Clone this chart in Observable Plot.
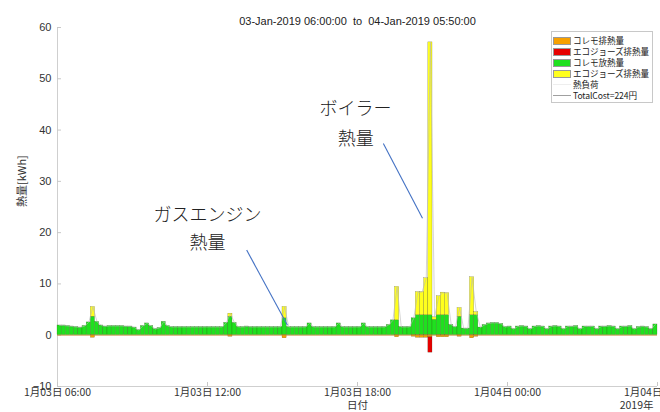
<!DOCTYPE html>
<html>
<head>
<meta charset="utf-8">
<script src="https://cdn.jsdelivr.net/npm/d3@7"></script>
<script src="https://cdn.jsdelivr.net/npm/@observablehq/plot@0.6"></script>
<style>
  html, body { margin: 0; padding: 0; background: #fff; }
  body { width: 660px; height: 412px; overflow: hidden; position: relative; }
  #chart { position: absolute; left: 0; top: 0; }
  #legend { position: absolute; left: 551px; top: 31px; width: 102px; height: 72px; box-sizing: border-box;
            border: 1px solid #c8c8c8; background: #fff; font-family: "Noto Sans CJK JP", sans-serif; font-size: 8.6px; color: #222; padding-top: 3px; }
  .row { height: 11px; line-height: 11px; display: flex; align-items: center; white-space: nowrap; overflow: visible; }
  .sw { flex: none; width: 18px; height: 8px; margin-left: 1px; margin-right: 2px; box-sizing: border-box; border: 1px solid #999; }
  .ln { flex: none; width: 18px; height: 0; margin-left: 1px; margin-right: 2px; border-top: 1px solid #999; }
  .tx { white-space: nowrap; letter-spacing: -0.1px; }
</style>
</head>
<body>
<div id="chart"></div>
<div id="legend"></div>
<script>
// ---- data (10-minute steps from 2019-01-03 06:00 to 2019-01-04 05:50) ----
const seriesNames = ["コレモ排熱量", "エコジョーズ排熱量", "コレモ放熱量", "エコジョーズ排熱量"];
const lineNames = ["熱負荷", "TotalCost=224円"];
const titleText = "03-Jan-2019 06:00:00  to  04-Jan-2019 05:50:00";
const yTicks = [-10, 0, 10, 20, 30, 40, 50, 60];
const yLabel = "熱量[kWh]";
const xLabel = "日付";
const yearLabel = "2019年";

// コレモ放熱量 (green)
const coremoHeat = [
  1.9,1.9,1.8,1.7,1.6,1.5,
  1.8,2.5,3.6,2.6,1.9,1.7,
  1.8,1.8,1.8,1.8,1.7,1.7,
  1.5,1.0,1.8,2.3,1.8,1.2,
  1.4,2.6,1.8,1.6,1.6,1.6,
  1.6,1.6,1.6,1.6,1.6,1.6,
  1.6,1.6,1.6,1.6,2.4,3.6,
  2.4,1.6,1.6,1.7,1.6,1.6,
  1.6,1.6,1.6,1.6,1.6,1.6,
  3.3,1.6,1.6,1.6,1.6,1.6,
  2.3,1.6,1.6,1.6,1.6,1.6,
  1.6,2.3,1.6,1.6,1.6,1.6,
  1.6,2.3,1.6,1.6,1.6,1.6,
  1.6,2.0,2.9,2.9,1.6,1.6,
  1.6,3.3,3.9,3.9,3.9,3.9,
  3.0,3.9,3.9,3.9,2.0,1.6,
  3.6,1.3,1.3,3.9,3.9,1.5,
  2.0,2.3,2.4,2.4,2.2,1.6,
  1.7,1.2,1.7,1.8,1.7,1.2,
  1.7,1.8,1.7,1.2,1.7,1.8,
  1.7,1.2,1.7,1.7,1.8,1.2,
  1.7,1.7,1.7,1.2,1.7,1.7,
  1.8,1.7,1.2,1.7,1.7,1.8,
  1.2,1.6,1.7,1.6,1.2,2.1
];
// エコジョーズ (yellow, stacked on green)
const ecoHeat = [
  0,0,0,0,0,0,
  0,0,1.9,0,0,0,
  0,0,0,0,0,0,
  0,0,0,0,0,0,
  0,0,0,0,0,0,
  0,0,0,0,0,0,
  0,0,0,0,0,0.6,
  0,0,0,0,0,0,
  0,0,0,0,0,0,
  2.2,0,0,0,0,0,
  0,0,0,0,0,0,
  0,0,0,0,0,0,
  0,0,0,0,0,0,
  0,0,0,6.5,0,0,
  0,0,4.5,4.5,7.2,53.2,
  0.5,3.7,4.4,4.3,0,0,
  1.7,0,0,7.4,0.6,0,
  0,0,0,0,0,0,
  0,0,0,0,0,0,
  0,0,0,0,0,0,
  0,0,0,0,0,0,
  0,0,0,0,0,0,
  0,0,0,0,0,0,
  0,0,0,0,0,0
];
// コレモ排熱量 (orange, negative)
const coremoExhaust = [
  0,0,0,0,0,0,
  0,0,-0.5,0,0,0,
  0,0,0,0,0,0,
  0,0,0,0,0,0,
  0,0,0,0,0,0,
  0,0,0,0,0,0,
  0,0,0,0,0,-0.3,
  0,0,0,0,0,0,
  0,0,0,0,0,0,
  -0.6,0,0,0,0,0,
  0,0,0,0,0,0,
  0,0,0,0,0,0,
  0,0,0,0,0,0,
  0,0,0,-0.4,0,0,
  0,-0.3,-0.5,-0.5,-0.5,-0.4,
  0,-0.4,-0.4,-0.4,0,0,
  -0.3,0,0,-0.6,-0.3,0,
  0,0,0,0,0,0,
  0,0,0,0,0,0,
  0,0,0,0,0,0,
  0,0,0,0,0,0,
  0,0,0,0,0,0,
  0,0,0,0,0,0,
  0,0,0,0,0,0
];
// エコジョーズ排熱量 (red, negative, stacked below orange)
const ecoExhaust = [
  0,0,0,0,0,0, 0,0,0,0,0,0, 0,0,0,0,0,0, 0,0,0,0,0,0,
  0,0,0,0,0,0, 0,0,0,0,0,0, 0,0,0,0,0,0, 0,0,0,0,0,0,
  0,0,0,0,0,0, 0,0,0,0,0,0, 0,0,0,0,0,0, 0,0,0,0,0,0,
  0,0,0,0,0,0, 0,0,0,0,0,0,
  0,0,0,0,0,-3.0,
  0,0,0,0,0,0, 0,0,0,0,0,0, 0,0,0,0,0,0,
  0,0,0,0,0,0, 0,0,0,0,0,0, 0,0,0,0,0,0,
  0,0,0,0,0,0, 0,0,0,0,0,0, 0,0,0,0,0,0
];

// annotations
const annoText = [
  {t: "2019-01-03T17:55Z", v: 44.0, s: "ボイラー"},
  {t: "2019-01-03T17:56Z", v: 38.2, s: "熱量"},
  {t: "2019-01-03T12:00Z", v: 23.4, s: "ガスエンジン"},
  {t: "2019-01-03T12:00Z", v: 17.9, s: "熱量"}
];
const annoLinks = [
  {t1: "2019-01-03T19:02Z", v1: 37.4, t2: "2019-01-03T20:36Z", v2: 22.8},
  {t1: "2019-01-03T13:34Z", v1: 16.6, t2: "2019-01-03T15:12Z", v2: 1.95}
];

const colors = {orange: "#f7a000", red: "#e60000", green: "#1fe01f", yellow: "#ffff1e"};

// ---- build tables ----
const start = new Date(Date.UTC(2019, 0, 3, 6, 0));
const end = new Date(Date.UTC(2019, 0, 4, 6, 0));
const rows = coremoHeat.map((g, i) => ({
  t: d3.utcMinute.offset(start, 10 * i),
  g, e: ecoHeat[i], o: coremoExhaust[i], r: ecoExhaust[i]
}));
const rects = [];
for (const d of rows) {
  const t2 = d3.utcMinute.offset(d.t, 10);
  rects.push({x1: d.t, x2: t2, y1: 0, y2: d.g, c: colors.green});
  if (d.e) rects.push({x1: d.t, x2: t2, y1: d.g, y2: d.g + d.e, c: colors.yellow});
  if (d.o) rects.push({x1: d.t, x2: t2, y1: 0, y2: d.o, c: colors.orange});
  if (d.r) rects.push({x1: d.t, x2: t2, y1: d.o, y2: d.o + d.r, c: colors.red});
}
const xTicks = d3.utcHour.every(6).range(start, d3.utcMinute.offset(end, 1));
const fmt = d3.utcFormat("%-m月%d日 %H:%M");

const cjk = "'Noto Sans CJK JP', sans-serif";
const plot = Plot.plot({
  width: 660, height: 412,
  marginLeft: 57, marginRight: 3, marginTop: 27, marginBottom: 26,
  style: {fontFamily: "'Liberation Sans', 'Noto Sans CJK JP', sans-serif", fontSize: "11px", background: "#fff", overflow: "visible"},
  x: {type: "utc", domain: [start, end]},
  y: {domain: [-10, 60]},
  marks: [
    Plot.ruleX([start], {stroke: "#cfcfcf"}),
    Plot.ruleY([-10], {stroke: "#cfcfcf"}),
    Plot.axisY({ticks: yTicks, tickSize: -4, tickPadding: 10, stroke: "#c8c8c8", fill: "#333", label: null, fontSize: 11}),
    Plot.axisX({ticks: xTicks, tickFormat: fmt, tickSize: -4, tickPadding: 6, stroke: "#c8c8c8", fill: "#333", label: null, fontSize: 10.5, fontFamily: cjk}),
    Plot.rect(rects, {x1: "x1", x2: "x2", y1: "y1", y2: "y2", fill: "c", stroke: "#3a3a1a", strokeWidth: 0.35, strokeOpacity: 0.6}),
    Plot.ruleY([0], {stroke: "#c08a30", strokeWidth: 0.8, x1: start, x2: end}),
    Plot.lineY(rows, {x: d => d3.utcMinute.offset(d.t, 5), y: d => d.g + d.e, stroke: "#b8b8b8", strokeWidth: 0.6}),
    Plot.link(annoLinks, {x1: d => new Date(d.t1), y1: "v1", x2: d => new Date(d.t2), y2: "v2", stroke: "#4472c4", strokeWidth: 1.1}),
    Plot.text(annoText, {x: d => new Date(d.t), y: "v", text: "s", fontSize: 18, fontFamily: cjk, fontWeight: 300, fill: "#222"}),
    Plot.text([titleText], {frameAnchor: "top", dy: -10, fontSize: 11, fill: "#222"}),
    Plot.text([yLabel], {frameAnchor: "left", rotate: -90, dx: -35, fontSize: 11, fontFamily: cjk, fill: "#333"}),
    Plot.text([xLabel], {frameAnchor: "bottom", dy: 22.5, fontSize: 10.5, fontFamily: cjk, fill: "#333"}),
    Plot.text([yearLabel], {x: [end], frameAnchor: "bottom", dy: 22.5, textAnchor: "end", dx: -4, fontSize: 10.5, fontFamily: cjk, fill: "#333"})
  ]
});
document.getElementById("chart").appendChild(plot);

// legend
const legend = document.getElementById("legend");
const swatchColors = [colors.orange, colors.red, colors.green, colors.yellow];
seriesNames.forEach((n, i) => {
  const row = document.createElement("div"); row.className = "row";
  row.innerHTML = `<span class="sw" style="background:${swatchColors[i]}"></span><span class="tx">${n}</span>`;
  legend.appendChild(row);
});
const lineColors = ["#eeeeee", "#a0a0a0"];
lineNames.forEach((n, i) => {
  const row = document.createElement("div"); row.className = "row";
  row.innerHTML = `<span class="ln" style="border-top-color:${lineColors[i]}"></span><span class="tx">${n}</span>`;
  legend.appendChild(row);
});
</script>
</body>
</html>
